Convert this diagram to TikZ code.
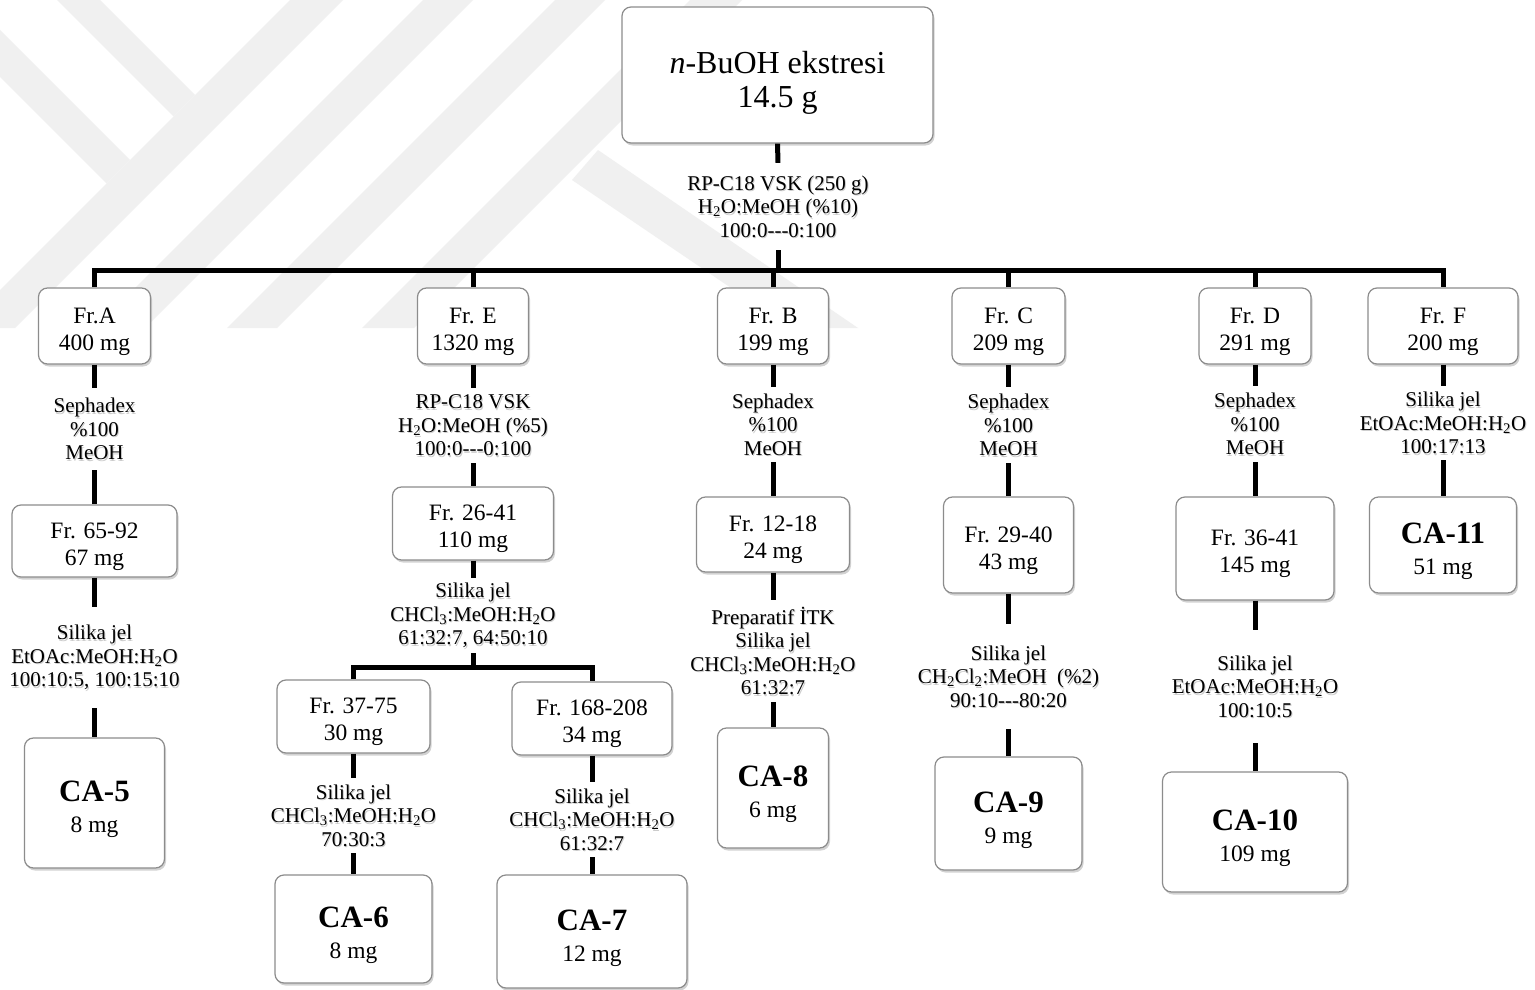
\documentclass[tikz,border=0pt]{standalone}
\usepackage{fontspec}
\setmainfont{Liberation Serif}[Ligatures=TeXOff]
\usetikzlibrary{shadows}
\newcommand\szTop{\fontsize{32}{34}\selectfont}
\newcommand\szBox{\fontsize{23.5}{27}\selectfont}
\newcommand\szLab{\fontsize{21}{23.5}\selectfont}
\newcommand\szCA{\fontsize{31}{31}\selectfont\bfseries}
\newcommand\sbs[1]{\textsubscript{#1}}
\newcommand\lift[1]{\rule{0pt}{#1}}
% method label with a soft grey text shadow: name, x, y, height, text
\newcommand\labnode[5]{%
  \node[lab, text=black!20, minimum height=#4pt, xshift=1pt, yshift=-1.6pt] (#1-sh) at (#2,#3) {#5};
  \node[lab, minimum height=#4pt] (#1) at (#2,#3) {#5};}
\begin{document}
\begin{tikzpicture}[x=1pt,y=-1pt,
  frac/.style={draw=black!45, line width=1.2pt, fill=white, rounded corners=9pt,
    align=center, inner sep=0pt, font=\szBox,
    drop shadow={shadow xshift=1.5pt, shadow yshift=-2.5pt, opacity=0.35, fill=black!50}},
  lab/.style={align=center, inner sep=0pt, font=\szLab},
  link/.style={line width=5pt, draw=black}]

\useasboundingbox (0,0) rectangle (1535,990);
\fill[white] (0,0) rectangle (1535,990);

% faint background stripes
\begin{scope}
  \clip (0,0) rectangle (1535,328);
  \fill[black!6] (57,0) -- (100,0) -- (195,95) -- (173.5,116.5) -- cycle;
  \fill[black!6] (0,30) -- (130,160) -- (106.5,183.5) -- (0,77) -- cycle;
  \fill[black!6] (290,0) -- (343,0) -- (15,328) -- (-38,328) -- cycle;
  \fill[black!6] (423,0) -- (473,0) -- (145,328) -- (95,328) -- cycle;
  \fill[black!6] (555,0) -- (605,0) -- (277,328) -- (227,328) -- cycle;
  \fill[black!6] (690,0) -- (742,0) -- (414,328) -- (362,328) -- cycle;
  \fill[black!6] (598,150) -- (858,328) -- (790,328) -- (572,180) -- cycle;
\end{scope}

% boxes
\node[frac, font=\szTop, minimum width=311pt, minimum height=136pt] (top) at (777.5,75)
  {\lift{37pt}\textit{n}-BuOH ekstresi\\14.5 g};

\node[frac, minimum width=112pt, minimum height=76pt] (fA) at (94.5,326) {\lift{27pt}Fr.A\\400 mg};
\node[frac, minimum width=111pt, minimum height=76pt] (fE) at (473,326) {\lift{27pt}Fr. E\\1320 mg};
\node[frac, minimum width=111pt, minimum height=76pt] (fB) at (773,326) {\lift{27pt}Fr. B\\199 mg};
\node[frac, minimum width=113pt, minimum height=76pt] (fC) at (1008.5,326) {\lift{27pt}Fr. C\\209 mg};
\node[frac, minimum width=112pt, minimum height=76pt] (fD) at (1255,326) {\lift{27pt}Fr. D\\291 mg};
\node[frac, minimum width=150pt, minimum height=76pt] (fF) at (1443,326) {\lift{27pt}Fr. F\\200 mg};

\node[frac, minimum width=165pt, minimum height=72pt] (f6592) at (94.5,541) {\lift{27pt}Fr. 65-92\\67 mg};
\node[frac, minimum width=161pt, minimum height=73pt] (f2641) at (473,523.5) {\lift{27pt}Fr. 26-41\\110 mg};
\node[frac, minimum width=153pt, minimum height=75pt] (f1218) at (773,534.5) {\lift{27pt}Fr. 12-18\\24 mg};
\node[frac, minimum width=130pt, minimum height=96pt] (f2940) at (1008.5,545) {\lift{27pt}Fr. 29-40\\43 mg};
\node[frac, minimum width=158pt, minimum height=103pt] (f3641) at (1255,548.5) {\lift{27pt}Fr. 36-41\\145 mg};
\node[frac, minimum width=147pt, minimum height=96pt] (ca11) at (1443,545) {{\szCA\lift{34pt}CA-11}\\[4pt]51 mg};

\node[frac, minimum width=140pt, minimum height=130pt] (ca5) at (94.5,803) {{\szCA\lift{34pt}CA-5}\\[4pt]8 mg};
\node[frac, minimum width=153pt, minimum height=73pt] (f3775) at (353.5,716.5) {\lift{27pt}Fr. 37-75\\30 mg};
\node[frac, minimum width=160pt, minimum height=73pt] (f168) at (592,718.5) {\lift{27pt}Fr. 168-208\\34 mg};
\node[frac, minimum width=111pt, minimum height=120pt] (ca8) at (773,788) {{\szCA\lift{34pt}CA-8}\\[4pt]6 mg};
\node[frac, minimum width=147pt, minimum height=113pt] (ca9) at (1008.5,813.5) {{\szCA\lift{34pt}CA-9}\\[4pt]9 mg};
\node[frac, minimum width=185pt, minimum height=120pt] (ca10) at (1255,832) {{\szCA\lift{34pt}CA-10}\\[4pt]109 mg};

\node[frac, minimum width=157pt, minimum height=108pt] (ca6) at (353.5,929) {{\szCA\lift{34pt}CA-6}\\[4pt]8 mg};
\node[frac, minimum width=190pt, minimum height=113pt] (ca7) at (592,931.5) {{\szCA\lift{34pt}CA-7}\\[4pt]12 mg};

% method labels
\labnode{lT}{778}{206.5}{87}{RP-C18 VSK (250 g)\\H\sbs{2}O:MeOH (\%10)\\100:0---0:100}

\labnode{lA}{94.5}{429}{82}{Sephadex\\\%100\\MeOH}
\labnode{lE}{473}{425.5}{75}{RP-C18 VSK\\H\sbs{2}O:MeOH (\%5)\\100:0---0:100}
\labnode{lB}{773}{424.5}{75}{Sephadex\\\%100\\MeOH}
\labnode{lC}{1008.5}{425}{76}{Sephadex\\\%100\\MeOH}
\labnode{lD}{1255}{424}{76}{Sephadex\\\%100\\MeOH}
\labnode{lF}{1443}{423}{74}{Silika jel\\EtOAc:MeOH:H\sbs{2}O\\100:17:13}

\labnode{lA2}{94.5}{657.5}{101}{Silika jel\\EtOAc:MeOH:H\sbs{2}O\\100:10:5, 100:15:10}
\labnode{lE2}{473}{615.5}{75}{Silika jel\\CHCl\sbs{3}:MeOH:H\sbs{2}O\\61:32:7, 64:50:10}
\labnode{lB2}{773}{651}{102}{Preparatif İTK\\Silika jel\\CHCl\sbs{3}:MeOH:H\sbs{2}O\\61:32:7}
\labnode{lC2}{1008.5}{676.5}{105}{Silika jel\\CH\sbs{2}Cl\sbs{2}:MeOH~~(\%2)\\90:10---80:20}
\labnode{lD2}{1255}{686.5}{113}{Silika jel\\EtOAc:MeOH:H\sbs{2}O\\100:10:5}

\labnode{l3775}{353.5}{815.5}{75}{Silika jel\\CHCl\sbs{3}:MeOH:H\sbs{2}O\\70:30:3}
\labnode{l168}{592}{819.5}{75}{Silika jel\\CHCl\sbs{3}:MeOH:H\sbs{2}O\\61:32:7}

% connectors
\coordinate (mb) at (778,270);
\coordinate (sb) at (473,667);

\draw[link] (top.south) -- (lT.north);
\draw[link] (lT.south) -- (mb);
\draw[link] (fA.north) |- (mb) -| (fF.north);
\draw[link] (fE.north) -- (fE.north |- mb);
\draw[link] (fB.north) -- (fB.north |- mb);
\draw[link] (fC.north) -- (fC.north |- mb);
\draw[link] (fD.north) -- (fD.north |- mb);

\draw[link] (fA.south) -- (lA.north);
\draw[link] (lA.south) -- (f6592.north);
\draw[link] (f6592.south) -- (lA2.north);
\draw[link] (lA2.south) -- (ca5.north);

\draw[link] (fE.south) -- (lE.north);
\draw[link] (lE.south) -- (f2641.north);
\draw[link] (f2641.south) -- (lE2.north);
\draw[link] (lE2.south) -- (sb);
\draw[link] (f3775.north) |- (sb) -| (f168.north);
\draw[link] (f3775.south) -- (l3775.north);
\draw[link] (l3775.south) -- (ca6.north);
\draw[link] (f168.south) -- (l168.north);
\draw[link] (l168.south) -- (ca7.north);

\draw[link] (fB.south) -- (lB.north);
\draw[link] (lB.south) -- (f1218.north);
\draw[link] (f1218.south) -- (lB2.north);
\draw[link] (lB2.south) -- (ca8.north);

\draw[link] (fC.south) -- (lC.north);
\draw[link] (lC.south) -- (f2940.north);
\draw[link] (f2940.south) -- (lC2.north);
\draw[link] (lC2.south) -- (ca9.north);

\draw[link] (fD.south) -- (lD.north);
\draw[link] (lD.south) -- (f3641.north);
\draw[link] (f3641.south) -- (lD2.north);
\draw[link] (lD2.south) -- (ca10.north);

\draw[link] (fF.south) -- (lF.north);
\draw[link] (lF.south) -- (ca11.north);
\end{tikzpicture}
\end{document}
